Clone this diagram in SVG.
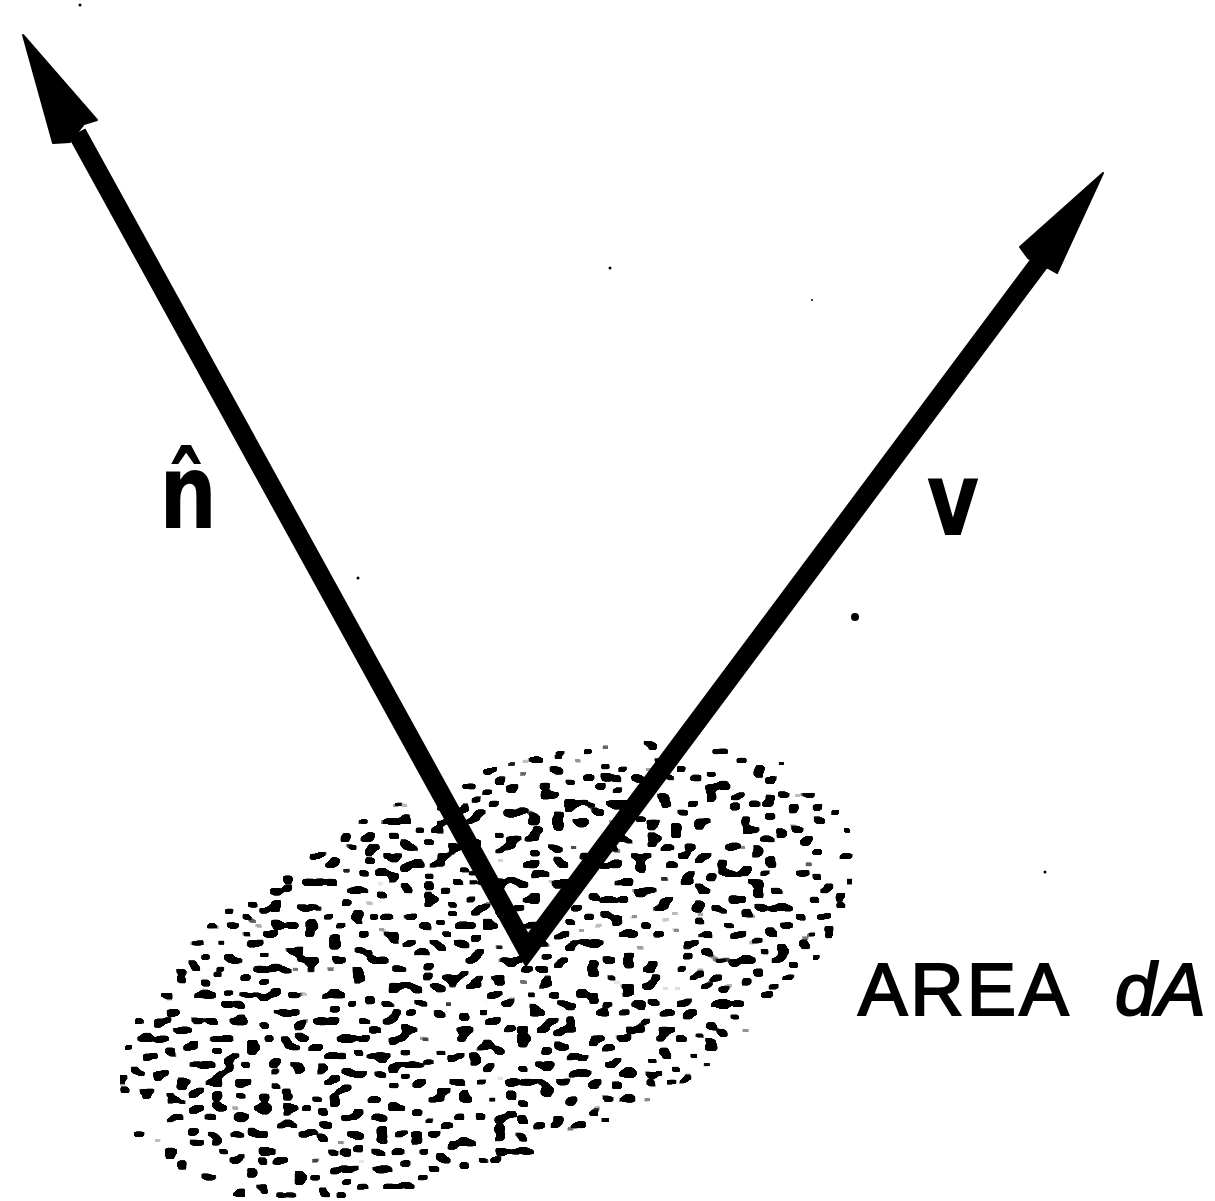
<svg xmlns="http://www.w3.org/2000/svg" width="1215" height="1201" viewBox="0 0 1215 1201">
  <defs>
    <filter id="stipple" x="0" y="0" width="1215" height="1201" filterUnits="userSpaceOnUse" primitiveUnits="userSpaceOnUse" color-interpolation-filters="sRGB">
      <feTurbulence type="fractalNoise" baseFrequency="0.085 0.115" numOctaves="1" seed="5" result="noise"/>
      <feColorMatrix in="noise" type="matrix" values="0 0 0 0 0  0 0 0 0 0  0 0 0 0 0  1 0 0 0 0" result="na"/>
      <feComposite in="na" in2="SourceAlpha" operator="arithmetic" k1="0" k2="60" k3="14.2" k4="-52" result="cores"/>
      <feMorphology in="cores" operator="dilate" radius="1.7 1.1"/>
    </filter>
    <radialGradient id="fade" cx="0.5" cy="0.5" r="0.5">
      <stop offset="0" stop-color="#000" stop-opacity="1"/>
      <stop offset="0.85" stop-color="#000" stop-opacity="1"/>
      <stop offset="1" stop-color="#000" stop-opacity="0.8"/>
    </radialGradient>
    <style>
      .shaft { fill: none; stroke: #000; stroke-width: 19; stroke-linejoin: miter; stroke-miterlimit: 10; stroke-linecap: butt; }
      .head { fill: #000; stroke: #000; stroke-width: 2; stroke-linejoin: round; }
      .lbl { font-family: "Liberation Sans", "DejaVu Sans", Arial, sans-serif; fill: #000; }
      .sym { font-family: "DejaVu Sans", "Liberation Sans", sans-serif; font-weight: bold; fill: #000; }
      .speck { fill: #000; }
    </style>
  </defs>
  <rect width="1215" height="1201" fill="#fff"/>

  <g id="area-dA" filter="url(#stipple)">
    <ellipse cx="487" cy="972" rx="388" ry="190" transform="rotate(-22.7 487 972)" fill="url(#fade)"/>
  </g>

  <g id="connectors">
    <polyline class="shaft" points="77,133 527,950 1040,262"/>
    <polygon id="head-n" class="head" points="23,35 97,120 84,124 70,142 53,143"/>
    <polygon id="head-v" class="head" points="1103,173 1057,273 1048,268 1028,258 1020,247"/>
  </g>

  <g id="label-n">
    <text class="sym" font-size="104" text-anchor="middle" transform="translate(188 528) scale(0.78 1)">n̂</text>
  </g>
  <g id="label-v">
    <text class="sym" font-size="104" text-anchor="middle" transform="translate(953 535) scale(0.78 1)">v</text>
  </g>
  <g id="label-area">
    <text class="lbl" x="858" y="1015" font-size="74" letter-spacing="3" stroke="#000" stroke-width="2">AREA<tspan x="1115" font-style="italic" letter-spacing="0">dA</tspan></text>
  </g>

  <g id="specks">
    <circle class="speck" cx="80" cy="5" r="1.5"/>
    <circle class="speck" cx="610" cy="268" r="1.5"/>
    <circle class="speck" cx="812" cy="300" r="1"/>
    <circle class="speck" cx="358" cy="578" r="1.5"/>
    <circle class="speck" cx="855" cy="617" r="4"/>
    <circle class="speck" cx="1045" cy="872" r="1.5"/>
  </g>
</svg>
